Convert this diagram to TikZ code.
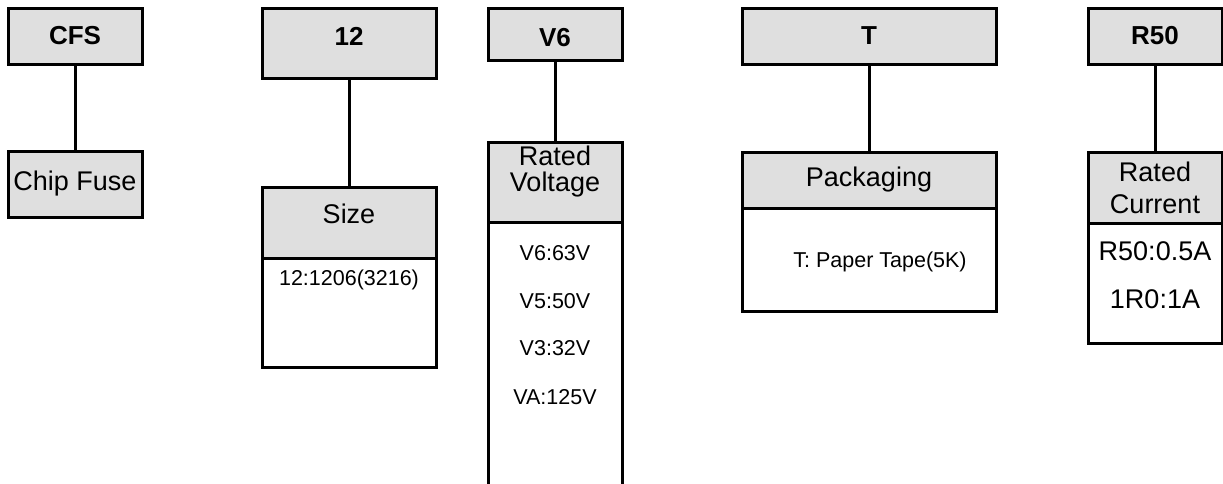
\documentclass[tikz,border=0pt]{standalone}
\usepackage{fontspec}
\setmainfont{Liberation Sans}
\usepackage{xcolor}
\usetikzlibrary{positioning}
\definecolor{boxgray}{RGB}{223,223,223}

\begin{document}
\begin{tikzpicture}[x=1pt, y=-1pt, outer sep=0pt, inner sep=0pt,
	codebox/.style={draw, line width=3pt, fill=boxgray, font=\fontsize{26}{30}\selectfont\bfseries, minimum height=56pt},
	headbox/.style={draw, line width=3pt, fill=boxgray, align=center, font=\fontsize{27}{31}\selectfont},
	bodybox/.style={draw, line width=3pt, fill=white},
	entry/.style={font=\fontsize{21.5}{25}\selectfont},
	bigentry/.style={font=\fontsize{27}{31}\selectfont},
	link/.style={line width=3pt}]
	\useasboundingbox (0,0) rectangle (1223,483);

	\node[codebox, minimum width=134pt] (cfs) at (75,36) {CFS};
	\node[headbox, minimum width=134pt, minimum height=66pt] (fuse) at (75,184) {Chip Fuse};

	\node[codebox, minimum width=174pt, minimum height=70pt, text depth=14pt] (size) at (349,43) {12};
	\node[headbox, minimum width=174pt, minimum height=71pt, text depth=18pt] (sizehd) at (349,222.5) {Size};
	\node[bodybox, minimum width=174pt, minimum height=109pt, below=0pt of sizehd] (sizebd) {};
	\node[entry] (size1) at (349,280) {12:1206(3216)};

	\node[codebox, minimum width=134pt, minimum height=52pt, text height=26pt] (volt) at (555,34) {V6};
	\node[headbox, minimum width=134pt, minimum height=80pt, text depth=27pt] (volthd) at (555,182) {Rated\\[-5pt]Voltage};
	\node[bodybox, minimum width=134pt, minimum height=290pt, below=0pt of volthd] (voltbd) {};
	\node[entry] (volt1) at (555,253) {V6:63V};
	\node[entry] (volt2) at (555,301) {V5:50V};
	\node[entry] (volt3) at (555,348) {V3:32V};
	\node[entry] (volt4) at (555,397) {VA:125V};

	\node[codebox, minimum width=254pt] (pack) at (869,36) {T};
	\node[headbox, minimum width=254pt, minimum height=56pt] (packhd) at (869,180) {Packaging};
	\node[bodybox, minimum width=254pt, minimum height=103pt, below=0pt of packhd] (packbd) {};
	\node[entry] (pack1) at (880,262) {T: Paper Tape(5K)};

	\node[codebox, minimum width=134pt] (curr) at (1155,36) {R50};
	\node[headbox, minimum width=134pt, minimum height=71pt] (currhd) at (1155,187.5) {Rated\\[1pt]Current};
	\node[bodybox, minimum width=134pt, minimum height=120pt, below=0pt of currhd] (currbd) {};
	\node[bigentry] (curr1) at (1155,251) {R50:0.5A};
	\node[bigentry] (curr2) at (1155,299) {1R0:1A};

	\draw[link] (cfs) -- (fuse);
	\draw[link] (size) -- (sizehd);
	\draw[link] (volt) -- (volthd);
	\draw[link] (pack) -- (packhd);
	\draw[link] (curr) -- (currhd);
\end{tikzpicture}
\end{document}
